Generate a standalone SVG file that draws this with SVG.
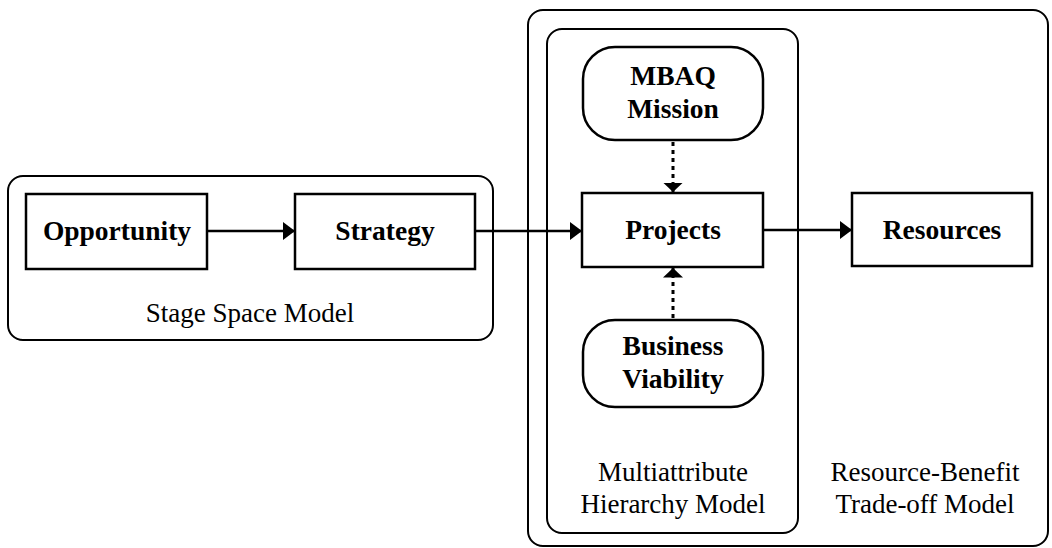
<svg xmlns="http://www.w3.org/2000/svg" width="1052" height="548" viewBox="0 0 1052 548">
<defs>
<style>
.cont{fill:none;stroke:#000;stroke-width:2}
.box{fill:#fff;stroke:#000;stroke-width:2.5}
.b{font-family:"Liberation Serif","Times New Roman",serif;font-weight:bold;font-size:27.5px;text-anchor:middle;fill:#000}
.r{font-family:"Liberation Serif","Times New Roman",serif;font-size:27px;text-anchor:middle;fill:#000}
.solid{stroke:#000;stroke-width:2.5;fill:none}
.dot{stroke:#000;stroke-width:3;fill:none;stroke-dasharray:4 4}
</style>
<marker id="ah" markerWidth="13" markerHeight="20" refX="12" refY="10" orient="auto" markerUnits="userSpaceOnUse">
<path d="M0,1 L12,10 L0,19 Z" fill="#000"/>
</marker>
<marker id="ahd" markerWidth="10" markerHeight="22" refX="9.5" refY="11" orient="auto" markerUnits="userSpaceOnUse">
<path d="M0,1 L9.5,11 L0,21 Z" fill="#000"/>
</marker>
</defs>
<g id="stage-space-model">
<rect class="cont" x="8" y="176" width="485" height="164" rx="15"/>
<text class="r" x="250" y="322">Stage Space Model</text>
</g>
<g id="resource-benefit-model">
<rect class="cont" x="528" y="10" width="520" height="536" rx="15"/>
<text class="r" x="925" y="481">Resource-Benefit</text>
<text class="r" x="925" y="513">Trade-off Model</text>
</g>
<g id="multiattribute-model">
<rect class="cont" x="547" y="29" width="251" height="504" rx="15"/>
<text class="r" x="673" y="481">Multiattribute</text>
<text class="r" x="673" y="513">Hierarchy Model</text>
</g>
<g id="opportunity">
<rect class="box" x="26" y="194" width="181" height="75"/>
<text class="b" x="117" y="240">Opportunity</text>
</g>
<g id="strategy">
<rect class="box" x="295" y="194" width="180" height="75"/>
<text class="b" x="385" y="240">Strategy</text>
</g>
<g id="mbaq-mission">
<rect class="box" x="583" y="47" width="180" height="93" rx="32"/>
<text class="b" x="673" y="85">MBAQ</text>
<text class="b" x="673" y="118">Mission</text>
</g>
<g id="projects">
<rect class="box" x="582" y="193" width="181" height="74"/>
<text class="b" x="673" y="239">Projects</text>
</g>
<g id="business-viability">
<rect class="box" x="583" y="320" width="180" height="87" rx="32"/>
<text class="b" x="673" y="355">Business</text>
<text class="b" x="673" y="388">Viability</text>
</g>
<g id="resources">
<rect class="box" x="852" y="193" width="180" height="73"/>
<text class="b" x="942" y="239">Resources</text>
</g>
<g id="connectors">
<line class="solid" x1="207" y1="231" x2="295" y2="231" marker-end="url(#ah)"/>
<line class="solid" x1="475" y1="231" x2="582" y2="231" marker-end="url(#ah)"/>
<line class="solid" x1="763" y1="230" x2="852" y2="230" marker-end="url(#ah)"/>
<line class="dot" x1="673" y1="142" x2="673" y2="192" marker-end="url(#ahd)"/>
<line class="dot" x1="673" y1="318" x2="673" y2="268" marker-end="url(#ahd)"/>
</g>
</svg>
